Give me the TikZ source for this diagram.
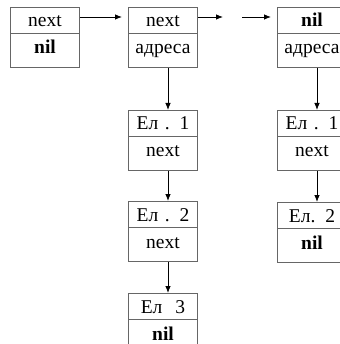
\documentclass[tikz,border=0pt]{standalone}
\usepackage{fontspec}
\setmainfont{Liberation Serif}
\usetikzlibrary{%
    arrows.meta,
    positioning,
    calc,
    shapes.multipart
}
\newcommand{\cellhd}[1]{\rule[-6pt]{0pt}{25pt}#1}
\newcommand{\cellbd}[1]{\rule[-13pt]{0pt}{33pt}#1}

\begin{document}
\begin{tikzpicture}[cell/.style={rectangle split, rectangle split parts=2, draw=black!60, line width=1pt,
        inner xsep=0pt, inner ysep=0pt, text width=69pt, align=center, font=\fontsize{19.5}{20}\selectfont},
      link/.style={-{Latex[length=7pt,width=5.5pt]}, line width=.8pt}]
      \useasboundingbox (0,0) rectangle (339pt,-344pt);

      % head pointer and list of arrays
      \node[cell, anchor=north west] (head) at (10pt,-7pt) {\cellhd{next}\nodepart{two}\cellbd{\textbf{nil}}};
      \node[cell, right=48pt of head] (lst) {\cellhd{next}\nodepart{two}\cellbd{адреса}};
      \node[cell, right=79pt of lst] (arr) {\cellhd{\textbf{nil}}\nodepart{two}\cellbd{адреса}};

      % elements of the first array
      \node[cell, below=42pt of lst] (el_1) {\cellhd{Ел . 1}\nodepart{two}\cellbd{next}};
      \node[cell, below=30pt of el_1] (el_2) {\cellhd{Ел . 2}\nodepart{two}\cellbd{next}};
      \node[cell, below=31pt of el_2] (el_3) {\cellhd{Ел \ 3}\nodepart{two}\cellbd{\textbf{nil}}};

      % elements of the last array
      \node[cell, below=42pt of arr] (sub_1) {\cellhd{Ел . 1}\nodepart{two}\cellbd{next}};
      \node[cell, below=31pt of sub_1] (sub_2) {\cellhd{Ел. 2}\nodepart{two}\cellbd{\textbf{nil}}};

      \coordinate (brk_1) at ([xshift=25pt, yshift=-10pt]lst.north east);
      \coordinate (brk_2) at ([xshift=-35pt, yshift=-10pt]arr.north west);

      \draw[link] ([yshift=-10pt]head.north east) -- ([xshift=-6pt, yshift=-10pt]lst.north west);
      \draw[link] ([yshift=-10pt]lst.north east) -- (brk_1);
      \draw[link] (brk_2) -- ([xshift=-6pt, yshift=-10pt]arr.north west);

      \draw[link] ([xshift=5pt]lst.south) -- ([xshift=5pt]el_1.north);
      \draw[link] ([xshift=5pt]el_1.south) -- ([xshift=5pt]el_2.north);
      \draw[link] ([xshift=5pt]el_2.south) -- ([xshift=5pt]el_3.north);

      \draw[link] ([xshift=5pt]arr.south) -- ([xshift=5pt]sub_1.north);
      \draw[link] ([xshift=5pt]sub_1.south) -- ([xshift=5pt]sub_2.north);
    \end{tikzpicture}
\end{document}
